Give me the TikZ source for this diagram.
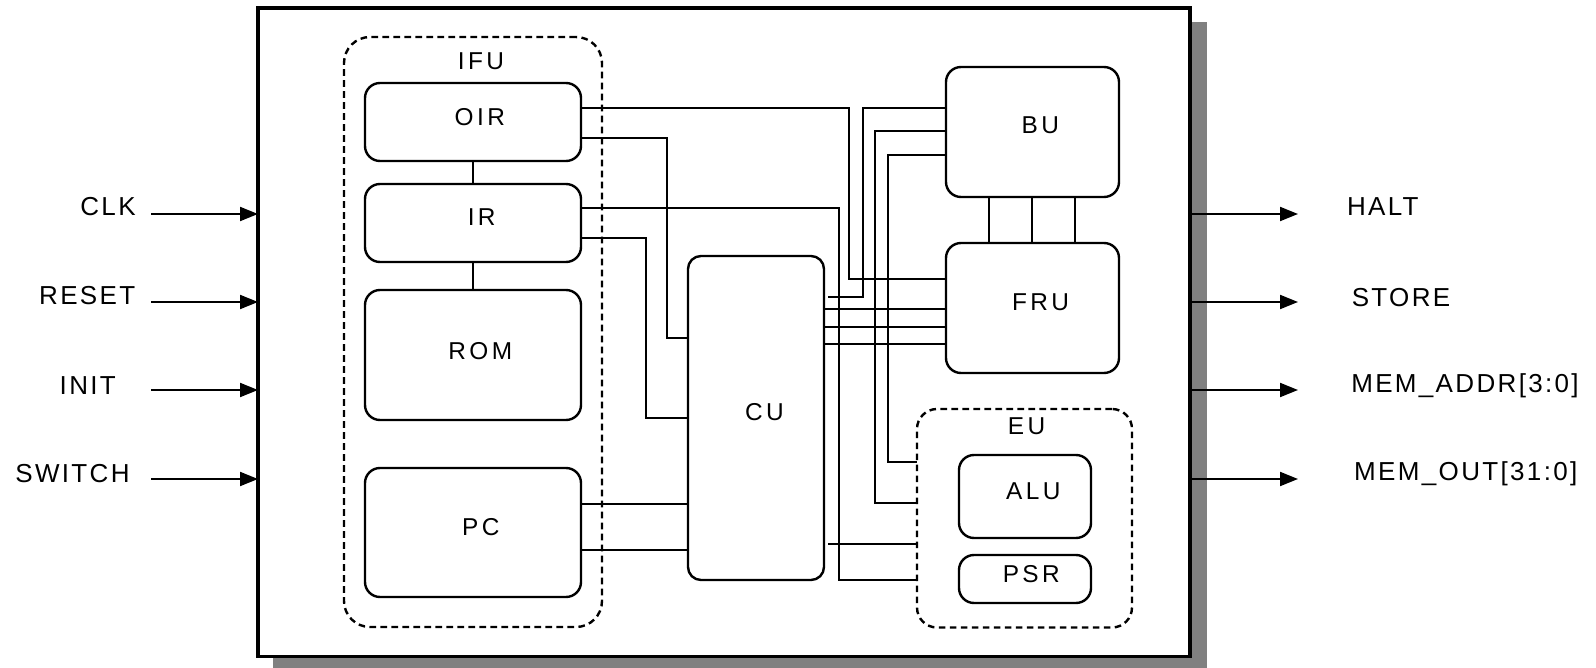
\documentclass[tikz,border=0pt]{standalone}
\usepackage{fontspec}
\setmainfont{Liberation Sans}
\newfontfamily\outfont[LetterSpace=9]{Liberation Sans}
\newfontfamily\infont[LetterSpace=14]{Liberation Sans}
\usetikzlibrary{fit,arrows.meta}
\begin{document}
\begin{tikzpicture}[x=0.5pt,y=-0.5pt,
  blk/.style={draw, line width=1.2pt, rounded corners=7.5pt, inner sep=0pt, outer sep=0pt},
  grp/.style={draw, line width=1.2pt, dash pattern=on 3.3pt off 2.2pt, rounded corners=13pt, inner sep=0pt, outer sep=0pt},
  wire/.style={line width=1pt},
  sig/.style={line width=1pt, -{Triangle[length=9pt,width=7pt]}},
  intext/.style={font=\infont\fontsize{12.2}{14}\selectfont, inner sep=0pt, anchor=base},
  outtext/.style={font=\outfont\fontsize{13}{15}\selectfont, inner sep=0pt, anchor=base}]
\useasboundingbox (0,0) rectangle (1596,668);
% shadow and chip
\fill[black!50] (273,22) rectangle (1207,668);
\node[draw, fill=white, line width=1.6pt, inner sep=0pt, outer sep=0pt, fit={(258,8) (1190,656.5)}] (chip) {};
% groups
\node[grp, fit={(344,37) (602,627)}] (IFU) {};
\node[grp, rounded corners=10pt, fit={(917,409) (1132,627.5)}] (EU) {};
% blocks
\node[blk, fit={(365,83) (581,161)}] (OIR) {};
\node[blk, fit={(365,184) (581,262)}] (IR) {};
\node[blk, fit={(365,290) (581,420)}] (ROM) {};
\node[blk, fit={(365,468) (581,597)}] (PC) {};
\node[blk, rounded corners=6.5pt, fit={(688,256) (824,580)}] (CU) {};
\node[blk, fit={(946,67) (1119,197)}] (BU) {};
\node[blk, fit={(946,243) (1119,373)}] (FRU) {};
\node[blk, fit={(959,455) (1091,538)}] (ALU) {};
\node[blk, fit={(959,555) (1091,603)}] (PSR) {};
% labels
\node[intext] (IFUt) at (481,69.3) {IFU};
\node[intext] (OIRt) at (479.8,125.7) {OIR};
\node[intext] (IRt) at (481.7,226) {IR};
\node[intext] (ROMt) at (480.3,359) {ROM};
\node[intext] (PCt) at (480.8,535) {PC};
\node[intext] (CUt) at (764.5,420.5) {CU};
\node[intext] (BUt) at (1040.3,134) {BU};
\node[intext] (FRUt) at (1040.5,310.7) {FRU};
\node[intext] (EUt) at (1026.5,434) {EU};
\node[intext] (ALUt) at (1033.3,499.3) {ALU};
\node[intext] (PSRt) at (1031.3,582.7) {PSR};
% IFU internal links
\draw[wire] (OIR.south -| 473,0) -- (IR.north -| 473,0);
\draw[wire] (IR.south -| 473,0) -- (ROM.north -| 473,0);
% BU-FRU links
\foreach \xx in {989,1032,1075} {\draw[wire] (BU.south -| \xx,0) -- (FRU.north -| \xx,0);}
% IFU to others
\draw[wire] (OIR.east |- 0,108) -- (849,108) -- (849,279) -- (FRU.west |- 0,279);
\draw[wire] (OIR.east |- 0,138) -- (667,138) -- (667,338) -- (CU.west |- 0,338);
\draw[wire] (IR.east |- 0,208) -- (839,208) -- (839,580) -- (EU.west |- 0,580);
\draw[wire] (IR.east |- 0,238) -- (646,238) -- (646,418) -- (CU.west |- 0,418);
\draw[wire] (PC.east |- 0,504) -- (CU.west |- 0,504);
\draw[wire] (PC.east |- 0,550) -- (CU.west |- 0,550);
% BU wires
\coordinate (stubA) at (828,297);
\coordinate (stubB) at (828,544);
\draw[wire] (BU.west |- 0,108) -- (863,108) -- (863,297) -- (stubA);
\draw[wire] (BU.west |- 0,131) -- (875,131) -- (875,503) -- (EU.west |- 0,503);
\draw[wire] (BU.west |- 0,155) -- (888,155) -- (888,462) -- (EU.west |- 0,462);
% CU to FRU / EU
\foreach \yy in {309,327,344} {\draw[wire] (CU.east |- 0,\yy) -- (FRU.west |- 0,\yy);}
\draw[wire] (stubB) -- (EU.west |- stubB);
% inputs
\coordinate (inCLK) at (151,214);
\coordinate (inRESET) at (151,302);
\coordinate (inINIT) at (151,390);
\coordinate (inSWITCH) at (151,479);
\foreach \c in {inCLK,inRESET,inINIT,inSWITCH} {\draw[sig] (\c) -- (\c -| chip.west);}
\node[outtext] (lCLK) at (108,216) {CLK};
\node[outtext] (lRESET) at (87.2,305) {RESET};
\node[outtext] (lINIT) at (87.8,394) {INIT};
\node[outtext] (lSWITCH) at (72.5,482.7) {SWITCH};
% outputs
\coordinate (oHALT) at (1298,214);
\coordinate (oSTORE) at (1298,302);
\coordinate (oADDR) at (1298,390);
\coordinate (oOUT) at (1298,479);
\foreach \c in {oHALT,oSTORE,oADDR,oOUT} {\draw[sig] (\c -| chip.east) -- (\c);}
\node[outtext] (lHALT) at (1382.8,216) {HALT};
\node[outtext] (lSTORE) at (1401,306.7) {STORE};
\node[outtext] (lADDR) at (1465,393) {MEM\_ADDR[3:0]};
\node[outtext] (lOUT) at (1465.8,480) {MEM\_OUT[31:0]};
\end{tikzpicture}
\end{document}
